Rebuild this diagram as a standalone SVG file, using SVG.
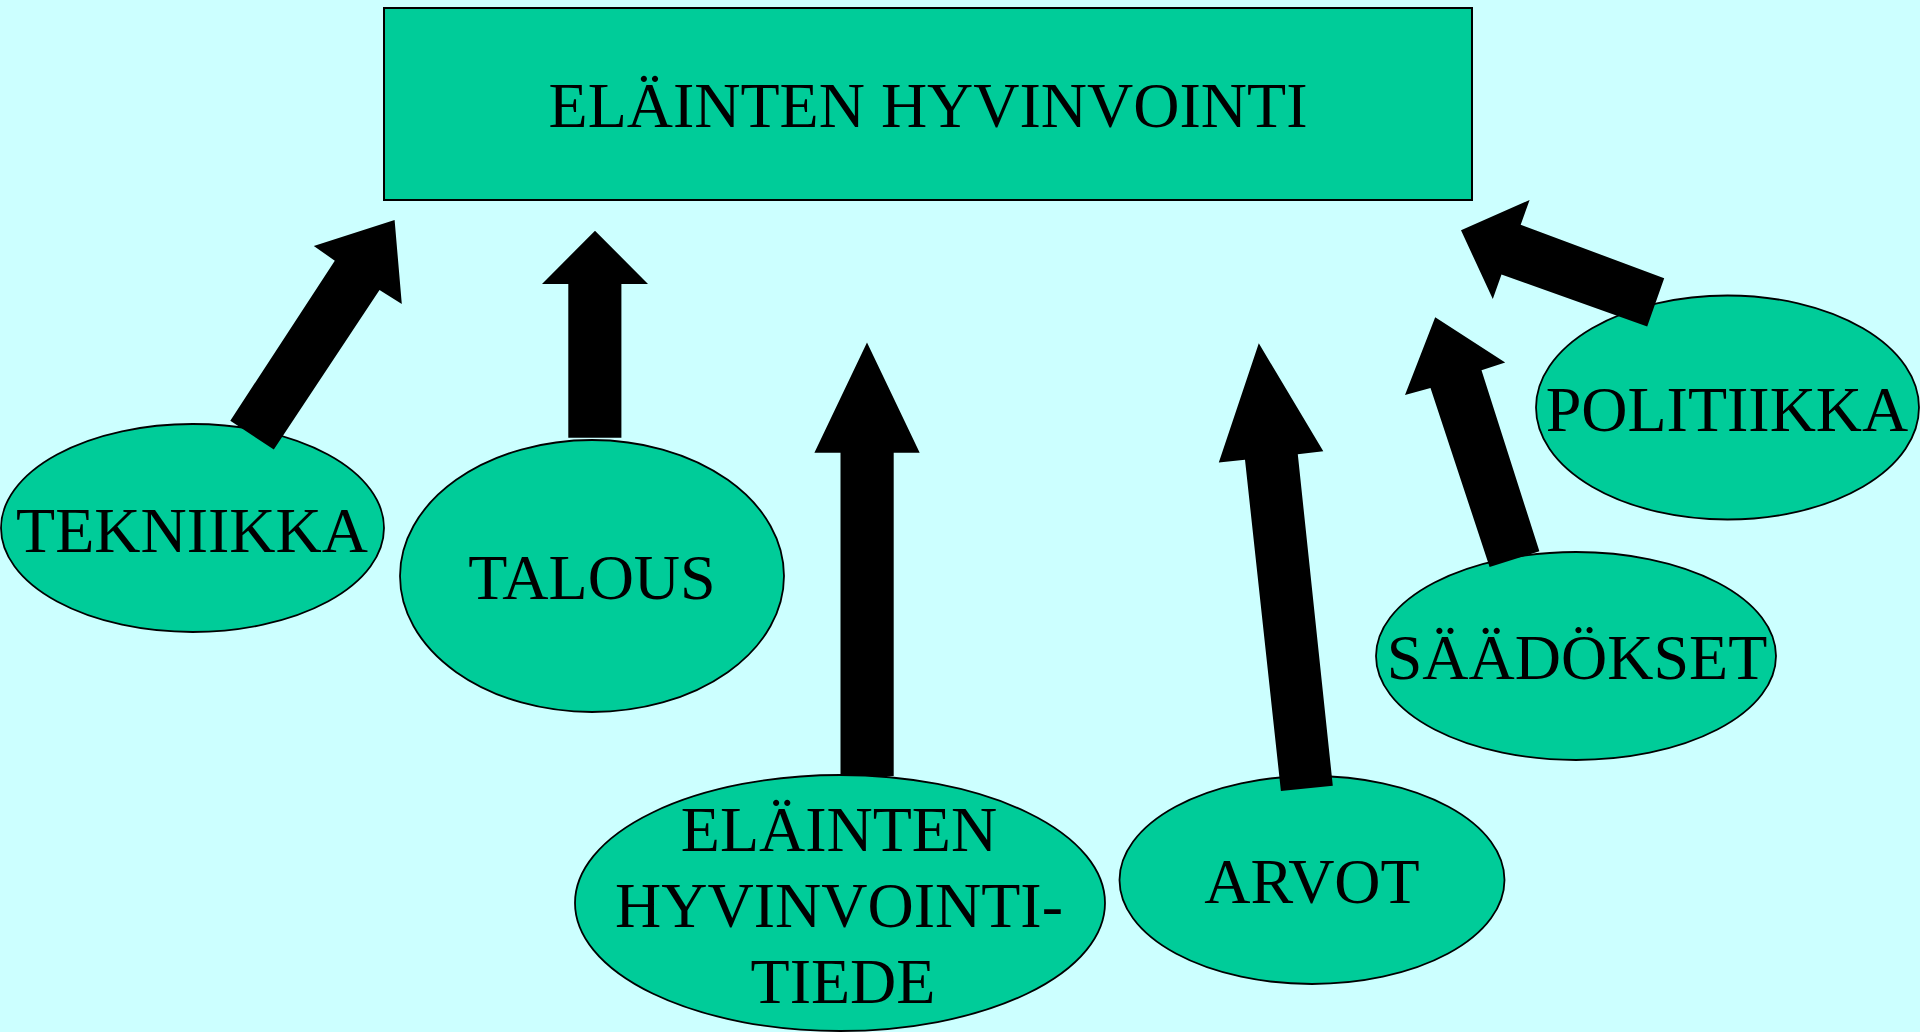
<svg xmlns="http://www.w3.org/2000/svg" width="1920" height="1032" viewBox="0 0 1920 1032">
<style>
.bg{fill:#CCFFFF}
.box{fill:#00CC99;stroke:#000;stroke-width:2}
.node{fill:#00CC99;stroke:#000;stroke-width:1.8}
.lbl{font-family:"Liberation Serif","Times New Roman",serif;font-size:64px;fill:#000;text-anchor:middle}
.arrow{fill:#000;stroke:none}
</style>
<rect class="bg" x="0" y="0" width="1920" height="1032"/>
<g id="node-elainten-hyvinvointi">
<rect class="box" x="384" y="8" width="1088" height="192"/>
<text class="lbl" x="928" y="127">ELÄINTEN HYVINVOINTI</text>
</g>
<g id="node-tekniikka">
<ellipse class="node" cx="192.5" cy="528" rx="191.5" ry="104"/>
<text class="lbl" x="192" y="552">TEKNIIKKA</text>
</g>
<g id="node-talous">
<ellipse class="node" cx="592" cy="576" rx="192" ry="136"/>
<text class="lbl" x="592" y="599">TALOUS</text>
</g>
<g id="node-tiede">
<ellipse class="node" cx="840" cy="903" rx="265" ry="128"/>
<text class="lbl" x="839" y="851">ELÄINTEN</text>
<text class="lbl" x="839" y="927">HYVINVOINTI-</text>
<text class="lbl" x="843" y="1003">TIEDE</text>
</g>
<g id="node-arvot">
<ellipse class="node" cx="1312" cy="880" rx="192.5" ry="104"/>
<text class="lbl" x="1312" y="903">ARVOT</text>
</g>
<g id="node-saadokset">
<ellipse class="node" cx="1576" cy="656" rx="200" ry="104"/>
<text class="lbl" x="1577" y="679">SÄÄDÖKSET</text>
</g>
<g id="node-politiikka">
<ellipse class="node" cx="1727.5" cy="407.5" rx="191.5" ry="112"/>
<text class="lbl" x="1727" y="431">POLITIIKKA</text>
</g>
<g id="connectors">
<polygon class="arrow" points="394.6,220 401.8,304 379.5,290 273.8,449.5 230.3,420.7 334.8,260.7 313.8,246"/>
<polygon class="arrow" points="595,230.7 648,284 621.4,284 621.4,437.7 568.3,437.7 568.3,284 542,284"/>
<polygon class="arrow" points="867,342.5 919.7,452.7 893.7,452.7 893.7,776 840.5,776 840.5,452.7 814.4,452.7"/>
<polygon class="arrow" points="1258.8,343.3 1323.3,451.3 1297.8,454.3 1332.8,785.7 1280.9,791 1245,459.7 1218.8,462.6"/>
<polygon class="arrow" points="1435.2,317.3 1505.2,362.5 1481.5,370.3 1539.4,551.3 1489.6,567 1430.5,388 1405,395"/>
<polygon class="arrow" points="1461,230.3 1529.6,200 1520.7,224.7 1664.2,278.3 1647.2,326.5 1501.5,274.5 1492.8,299"/>
</g>
</svg>
